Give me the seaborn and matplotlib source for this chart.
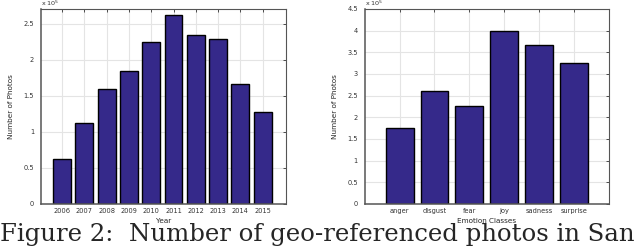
import pandas as pd
import matplotlib
matplotlib.use("Agg")
import matplotlib.pyplot as plt
import seaborn as sns

# values in units of 10^5 photos
years = ["2006", "2007", "2008", "2009", "2010", "2011", "2012", "2013", "2014", "2015"]
photos_per_year = [0.62, 1.12, 1.59, 1.85, 2.25, 2.62, 2.35, 2.29, 1.67, 1.28]

emotions = ["anger", "disgust", "fear", "joy", "sadness", "surprise"]
photos_per_emotion = [1.75, 2.60, 2.26, 4.00, 3.67, 3.25]

sns.set_style("white")
plt.rcParams['font.family'] = ['DejaVu Sans']

bar_color = "#35298a"

fig = plt.figure(figsize=(6.4, 2.46), dpi=100)
ax1 = fig.add_axes([0.064, 0.171, 0.383, 0.793])
ax2 = fig.add_axes([0.570, 0.171, 0.381, 0.793])

df_year = pd.DataFrame({"year": years, "photos": photos_per_year})
df_emo = pd.DataFrame({"emotion": emotions, "photos": photos_per_emotion})

sns.barplot(data=df_year, x="year", y="photos", color=bar_color, saturation=1,
            width=0.8, edgecolor="black", linewidth=1.0, ax=ax1)
sns.barplot(data=df_emo, x="emotion", y="photos", color=bar_color, saturation=1,
            width=0.8, edgecolor="black", linewidth=1.0, ax=ax2)


def style_axes(ax, ylim, yticks, xlim, xlabel):
    ax.set_ylim(*ylim)
    ax.set_xlim(*xlim)
    ax.set_yticks(yticks)
    ax.set_yticklabels([("%g" % t) for t in yticks])
    ax.grid(True, color="#e4e4e4", linewidth=0.8)
    ax.set_axisbelow(True)
    ax.tick_params(axis="both", direction="in", length=2.5, width=0.6,
                   labelsize=4.8, colors="#333333", top=True, right=True)
    ax.tick_params(axis="y", pad=5)
    ax.tick_params(axis="x", pad=3)
    for s in ax.spines.values():
        s.set_color("#555555")
        s.set_linewidth(0.8)
    ax.spines["left"].set_linewidth(1.1)
    ax.spines["bottom"].set_linewidth(1.1)
    ax.set_xlabel(xlabel, fontsize=5.2, labelpad=3)
    ax.set_ylabel("Number of Photos", fontsize=5.2, labelpad=7)
    ax.text(0.0, 1.004, r"x 10$^{5}$", transform=ax.transAxes, fontsize=4.6,
            ha="left", va="bottom", color="#333333")


style_axes(ax1, (0, 2.71), [0, 0.5, 1, 1.5, 2, 2.5], (-0.95, 10.05), "Year")
style_axes(ax2, (0, 4.5), [0, 0.5, 1, 1.5, 2, 2.5, 3, 3.5, 4, 4.5], (-1, 6), "Emotion Classes")

fig.text(0.0, 0.0, "Figure 2:  Number of geo-referenced photos in San",
         fontsize=17.6, family="DejaVu Serif", ha="left", va="bottom")

fig.savefig("out.png", dpi=100)
